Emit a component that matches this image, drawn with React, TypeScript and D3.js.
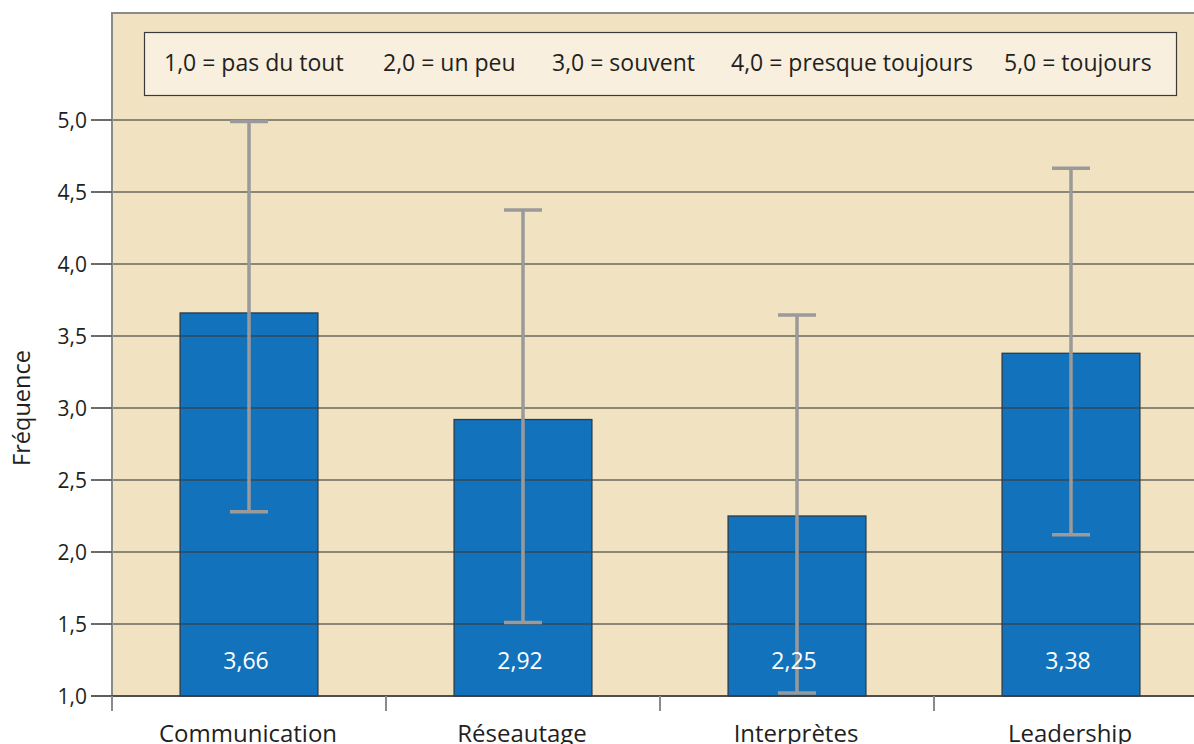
import React from "react";
import * as d3 from "d3";

const categories = ["Communication", "Réseautage", "Interprètes", "Leadership"];
const means = [3.66, 2.92, 2.25, 3.38];
const errLow = [2.28, 1.51, 1.02, 2.12];
const errHigh = [4.99, 4.375, 3.645, 4.665];
const yTicks = [1.0, 1.5, 2.0, 2.5, 3.0, 3.5, 4.0, 4.5, 5.0];
const legendItems = ["1,0 = pas du tout", "2,0 = un peu", "3,0 = souvent", "4,0 = presque toujours", "5,0 = toujours"];
const legendX = [164, 383, 552, 731, 1004];

const W = 1194, H = 744;
const left = 112, right = 1208, top = 13, bottom = 696;
const font = "'Open Sans', 'Noto Sans', sans-serif";

export default function App() {
  const x = d3.scaleBand<string>().domain(categories).range([left, right]).padding(0);
  const y = d3.scaleLinear().domain([1, 5]).range([bottom, 120]);
  const fmt = (v: number) => v.toFixed(1).replace(".", ",");
  const bw = x.bandwidth() * 0.503;
  return (
    <svg width={W} height={H} style={{ position: "absolute", left: 0, top: 0, display: "block" }} fontFamily={font}>
      <rect x={0} y={0} width={W} height={H} fill="#ffffff" />
      <rect x={left} y={top} width={right - left} height={bottom - top} fill="#f1e3c2" stroke="#8a8a8a" strokeWidth={2} />
      {/* legend */}
      <rect x={144.5} y={32.5} width={1032} height={63} fill="#f8efdf" stroke="#3a3a3a" strokeWidth={1.2} />
      {legendItems.map((t, i) => (
        <text key={t} x={legendX[i]} y={71} fontSize={23} fill="#231f20">{t}</text>
      ))}
      {/* bars */}
      {categories.map((c, i) => {
        const cx = x(c)! + x.bandwidth() / 2;
        return (
          <g key={c}>
            <rect x={cx - bw / 2} y={y(means[i])} width={bw} height={bottom - y(means[i])} fill="#1272bc" stroke="#2a3a4a" strokeWidth={1.3} />
          </g>
        );
      })}
      {/* gridlines over bars */}
      {yTicks.slice(1).map((t) => (
        <line key={t} x1={91} x2={right} y1={y(t)} y2={y(t)} stroke="#3b3b3b" strokeOpacity={0.75} strokeWidth={1.3} />
      ))}
      {/* error bars */}
      {categories.map((c, i) => {
        const cx = x(c)! + x.bandwidth() / 2;
        return (
          <g key={c} stroke="#9a9a9a" strokeWidth={3.5}>
            <line x1={cx} x2={cx} y1={y(errLow[i])} y2={y(errHigh[i])} />
            <line x1={cx - 19} x2={cx + 19} y1={y(errLow[i])} y2={y(errLow[i])} />
            <line x1={cx - 19} x2={cx + 19} y1={y(errHigh[i])} y2={y(errHigh[i])} />
          </g>
        );
      })}
      {/* value labels */}
      {categories.map((c, i) => {
        const cx = x(c)! + x.bandwidth() / 2;
        return (
          <text key={c} x={cx - 3} y={669} textAnchor="middle" fontSize={23} fill="#ffffff">{means[i].toFixed(2).replace(".", ",")}</text>
        );
      })}
      {/* axes */}
      <line x1={left} x2={left} y1={top} y2={bottom} stroke="#8a8a8a" strokeWidth={2} />
      <line x1={91} x2={right} y1={bottom} y2={bottom} stroke="#3b3b3b" strokeWidth={1.5} />
      {yTicks.map((t) => (
        <g key={t}>
          <line x1={91} x2={left} y1={y(t)} y2={y(t)} stroke="#555" strokeWidth={1.3} />
          <text x={87} y={y(t) + 7.5} textAnchor="end" fontSize={21} fill="#231f20">{fmt(t)}</text>
        </g>
      ))}
      {categories.map((c) => (
        <line key={c} x1={x(c)!} x2={x(c)!} y1={bottom} y2={711} stroke="#8a8a8a" strokeWidth={2} />
      ))}
      {categories.map((c) => (
        <text key={c} x={x(c)! + x.bandwidth() / 2 - 1} y={742} textAnchor="middle" fontSize={24} fill="#231f20">{c}</text>
      ))}
      <text transform={`translate(30,408) rotate(-90)`} textAnchor="middle" fontSize={23.5} fill="#231f20">Fréquence</text>
    </svg>
  );
}
